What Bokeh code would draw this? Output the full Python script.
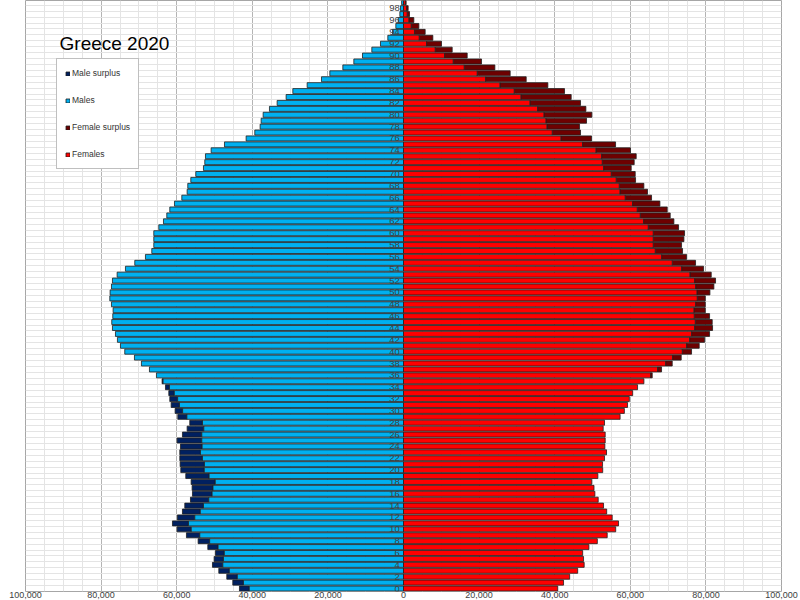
from bokeh.plotting import figure
from bokeh.models import Range1d, FixedTicker, Label, Legend, LegendItem, ColumnDataSource
from bokeh.embed import file_html
from bokeh.resources import INLINE
from bokeh.core.properties import value

# ---------------- data ----------------
ages = list(range(100))

males = [
    43400, 45160, 46750, 48860, 50540, 50100, 49740, 51770, 54330, 57420,   # 0-9
    59890, 61120, 59800, 58480, 57860, 56360, 55830, 55920, 56180, 57600,   # 10-19
    58920, 59090, 59180, 59180, 59000, 59890, 58480, 57240, 56540, 59710,   # 20-29
    60420, 61470, 61830, 62090, 62970, 63860, 65360, 67210, 69330, 71180,   # 30-39
    73740, 74880, 75680, 76200, 77000, 77180, 76910, 76820, 77260, 77700,   # 40-49
    77620, 77260, 77000, 75760, 73560, 71090, 68270, 66590, 66060, 66060,   # 50-59
    66060, 64740, 63500, 62620, 61830, 60590, 58650, 57240, 57070, 56270,   # 60-69
    54950, 52920, 52570, 52390, 50890, 47360, 41630, 39340, 37930, 37660,   # 70-79
    37130, 35460, 33430, 31050, 29280, 25490, 21700, 19490, 16050, 13140,   # 80-89
    10850, 8380, 6090, 4150, 2900, 2030, 1400, 970, 800, 500,               # 90-99
]

females = [
    40800, 42340, 43960, 46080, 47800, 47630, 47400, 49050, 51280, 53890,   # 0-9
    56140, 56890, 55210, 53750, 52920, 51510, 50630, 50400, 49800, 51420,   # 10-19
    52700, 52660, 53180, 53710, 53270, 53360, 53360, 52830, 53180, 57300,   # 20-29
    58430, 59270, 59750, 60630, 61920, 63600, 65800, 68270, 71090, 73470,   # 30-39
    76200, 78230, 79640, 80970, 81760, 81670, 80970, 79820, 79820, 79820,   # 40-49
    81060, 82110, 82550, 81410, 79380, 77260, 74880, 73820, 73560, 74180,   # 50-59
    74350, 72770, 71530, 70560, 69770, 67830, 65620, 64560, 63590, 61390,   # 60-69
    61300, 60240, 61030, 61560, 60060, 56100, 49740, 46830, 46570, 48420,   # 70-79
    49830, 48250, 46830, 44360, 42600, 38190, 32460, 28220, 24170, 20640,   # 80-89
    16850, 12880, 10050, 7760, 5730, 4060, 2730, 1590, 1230, 700,           # 90-99
]

tick_values = [-100000, -80000, -60000, -40000, -20000, 0, 20000, 40000, 60000, 80000, 100000]
tick_labels = ["100,000", "80,000", "60,000", "40,000", "20,000", "0",
               "20,000", "40,000", "60,000", "80,000", "100,000"]
label_ages = list(range(0, 100, 2))
age_labels = [str(a) for a in label_ages]

title_text = "Greece 2020"
series_names = ["Male surplus", "Males", "Female surplus", "Females"]

# ---------------- derived sources ----------------
common = [min(m, f) for m, f in zip(males, females)]

src_males = ColumnDataSource(dict(y=ages, left=[-c for c in common], right=[0] * len(ages)))
src_females = ColumnDataSource(dict(y=ages, left=[0] * len(ages), right=common))

ms = [(a, m, f) for a, m, f in zip(ages, males, females) if m > f]
src_msur = ColumnDataSource(dict(y=[a for a, _, _ in ms], left=[-m for _, m, _ in ms],
                                 right=[-f for _, _, f in ms]))
fs = [(a, m, f) for a, m, f in zip(ages, males, females) if f > m]
src_fsur = ColumnDataSource(dict(y=[a for a, _, _ in fs], left=[m for _, m, _ in fs],
                                 right=[f for _, _, f in fs]))

# ---------------- figure ----------------
FONT = "Liberation Sans"

p = figure(width=800, height=600,
           x_range=Range1d(-100000, 100000), y_range=Range1d(-0.5, 99.3),
           output_backend="svg", toolbar_location=None, y_axis_location=None,
           min_border_left=25, min_border_right=19, min_border_top=0, min_border_bottom=0)

p.background_fill_color = "white"
p.border_fill_color = "white"
p.outline_line_color = "#a6a6a6"
p.outline_line_width = 1

# grids
p.xgrid.ticker = FixedTicker(ticks=tick_values, minor_ticks=list(range(-100000, 100001, 5000)))
p.xgrid.grid_line_color = "#b4b4b4"
p.xgrid.minor_grid_line_color = "#e4e4e4"
p.ygrid.ticker = FixedTicker(ticks=[a + 0.5 for a in range(-1, 100)])
p.ygrid.grid_line_color = "#e4e4e4"

# x axis
p.xaxis.ticker = FixedTicker(ticks=tick_values)
p.xaxis.major_label_overrides = dict(zip(tick_values, tick_labels))
p.xaxis.axis_line_color = None
p.xaxis.major_tick_line_color = None
p.xaxis.minor_tick_line_color = None
p.xaxis.major_tick_out = 0
p.xaxis.major_tick_in = 0
p.xaxis.minor_tick_out = 0
p.xaxis.major_label_standoff = 0
p.xaxis.major_label_text_font = FONT
p.xaxis.major_label_text_font_size = "9px"
p.xaxis.major_label_text_color = "#404040"

# bars
bar_kw = dict(y="y", left="left", right="right", height=0.85,
              line_color="#202020", line_width=0.8)
r_ms = p.hbar(source=src_msur, fill_color="#002060", **bar_kw)
r_m = p.hbar(source=src_males, fill_color="#00B0F0", **bar_kw)
r_fs = p.hbar(source=src_fsur, fill_color="#6E0000", **bar_kw)
r_f = p.hbar(source=src_females, fill_color="#FF0000", **bar_kw)

# age labels in the middle
p.text(x=[-1000] * len(label_ages), y=label_ages, text=age_labels,
       text_align="right", text_baseline="middle",
       text_font=value(FONT), text_font_size=value("9.5px"), text_color="#404040")

# title
p.add_layout(Label(x=-91000, y=92.0, text=title_text, text_font=FONT,
                   text_font_size="19px", text_color="black", text_baseline="alphabetic"))

# legend
legend = Legend(items=[LegendItem(label=series_names[0], renderers=[r_ms]),
                       LegendItem(label=series_names[1], renderers=[r_m]),
                       LegendItem(label=series_names[2], renderers=[r_fs]),
                       LegendItem(label=series_names[3], renderers=[r_f])],
                location=(31, 422), orientation="vertical",
                glyph_width=5, glyph_height=5, label_standoff=2,
                label_height=12, label_width=20, spacing=15, padding=8, margin=0,
                label_text_font=FONT, label_text_font_size="8.5px", label_text_color="#333333",
                border_line_color="#808080", border_line_width=1,
                background_fill_color="white", background_fill_alpha=1.0)
p.add_layout(legend)

open("out.html", "w").write(file_html(p, INLINE))
